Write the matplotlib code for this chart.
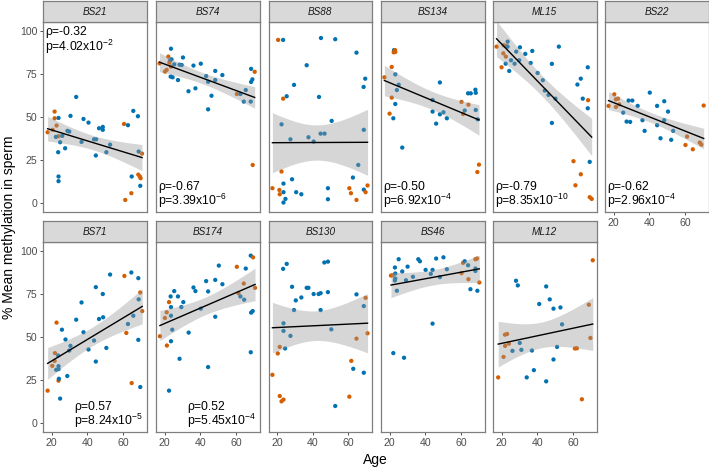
import numpy as np
import matplotlib
matplotlib.use("Agg")
import matplotlib.pyplot as plt

plt.rcParams['font.family'] = ['Liberation Sans', 'DejaVu Sans']
plt.rcParams['mathtext.fontset'] = 'custom'
plt.rcParams['mathtext.rm'] = 'Liberation Sans'
plt.rcParams['mathtext.it'] = 'Liberation Sans:italic'

# ---------------- data ----------------
panels = ['BS21', 'BS74', 'BS88', 'BS134', 'ML15', 'BS22',
          'BS71', 'BS174', 'BS130', 'BS46', 'ML12']

bs21_age = [17.8,20.6,21.7,21.7,22.8,23.9,22.4,23.9,23.7,23.9,23.9,24.8,26.0,27.6,28.9,29.9,30.6,33.8,36.8,37.9,40.7,43.8,45.0,44.8,46.6,48.7,48.7,50.7,52.8,60.6,62.8,61.3,64.7,64.9,65.8,68.4,68.8,68.6,69.5,69.9,69.7,70.7]
bs21_val = [41.2,42.6,53.2,49.3,45.1,38.9,38.5,49.5,29.6,15.5,12.8,35.4,39.1,31.9,42.0,41.6,50.7,61.7,35.6,48.9,46.8,37.1,37.1,27.7,43.5,44.3,42.6,29.6,34.0,46.0,45.3,1.9,5.8,15.5,53.6,50.5,30.0,16.6,15.5,14.5,10.1,28.8]
bs21_grp = "oooooo" + "b"*23 + "oboobbbbooobo"

bs74_age = [17.2,22.1,23.6,23.0,22.7,23.6,23.9,20.2,21.2,23.4,24.5,25.4,27.5,28.4,29.6,30.3,33.4,36.2,37.3,40.3,43.3,44.4,44.4,46.3,48.4,48.4,52.4,60.5,62.5,64.4,65.5,68.3,68.5,68.5,69.2,70.5,69.4]
bs74_val = [81.2,85.1,89.7,82.7,81.6,79.3,83.5,76.4,77.4,73.5,73.1,80.6,71.5,80.4,80.2,84.6,65.0,79.9,66.7,81.0,73.8,70.5,54.5,62.4,76.8,71.5,74.4,63.4,63.4,59.0,65.7,59.0,78.0,70.4,71.9,76.3,22.2]
bs74_grp = "oobbooboob" + "b"*17 + "o" + "b"*7 + "oo"

bs88_age = [20.6,23.4,44.6,52.6,64.5,36.6,29.5,69.4,68.5,23.4,25.4,43.5,50.6,22.5,27.5,37.6,40.5,44.4,46.6,68.6,65.5,22.5,62.5,28.4,17.4,21.3,23.6,23.6,21.5,24.7,23.6,30.7,33.6,48.5,48.5,60.5,61.4,64.5,68.6,69.6,70.7]
bs88_val = [94.8,94.8,95.9,95.2,87.4,80.1,68.7,72.3,67.5,60.7,62.1,61.7,47.8,45.8,37.1,38.3,35.8,40.4,40.4,42.6,22.2,18.4,14.9,13.9,8.7,7.7,11.4,6.4,5.2,2.5,0.4,6.4,5.2,8.7,2.3,8.7,5.8,1.9,7.9,6.4,10.3]
bs88_grp = "o" + "b"*8 + "o" + "b"*11 + "o" + "bb" + "oo" + "bb" + "o" + "b"*6 + "ooo" + "b" + "oo"

bs134_age = [17.1,22.5,23.1,22.3,23.2,21.2,23.2,25.1,24.1,21.2,23.2,20.0,22.1,27.1,48.2,44.1,44.1,46.1,48.2,50.2,52.1,60.3,61.2,62.1,64.2,64.0,65.5,68.1,68.3,68.3,69.4,70.1,69.2]
bs134_val = [73.1,88.9,88.9,87.6,87.8,79.1,74.8,68.8,65.7,61.3,57.6,52.0,49.3,32.3,70.1,59.9,53.2,46.2,51.6,52.8,49.3,58.8,51.8,53.8,57.2,63.8,63.8,65.9,64.1,54.1,48.7,22.4,18.1]
bs134_grp = "oboooo" + "bbb" + "obobb" + "b"*7 + "oobo" + "b"*6 + "oo"

ml15_age = [17.2,21.2,22.5,23.4,23.4,21.0,22.4,22.3,20.0,24.3,25.3,27.3,28.2,29.9,30.3,33.3,37.2,36.3,40.2,43.1,44.2,46.3,48.2,50.2,52.1,48.2,62.5,64.4,65.5,68.3,68.5,68.3,69.4,60.3,64.4,61.4,69.4,70.5]
ml15_val = [90.9,91.7,91.3,93.8,90.9,87.0,85.1,81.0,78.9,76.8,83.0,81.0,88.0,83.0,90.5,86.7,88.4,81.4,75.6,71.4,65.4,62.9,80.9,60.7,90.9,46.6,68.9,72.3,60.7,78.9,59.8,55.1,24.0,24.4,16.8,10.4,3.5,2.5]
ml15_grp = "ooobboobob" + "b"*20 + "obb" + "ooooo"

bs22_age = [17.2,20.4,21.3,22.5,21.3,23.2,25.4,27.3,29.3,28.4,30.5,33.5,36.2,37.4,40.3,44.4,44.4,46.3,48.4,48.4,50.5,52.3,53.4,61.2,60.3,64.4,68.3,69.2,70.5]
bs22_val = [56.5,63.2,60.3,60.7,55.9,57.4,52.6,47.4,47.2,59.6,59.6,56.5,48.2,42.0,64.2,56.5,45.3,37.7,59.2,48.2,53.2,36.8,42.0,38.7,33.8,31.3,35.2,34.0,56.7]
bs22_grp = "oooooo" + "b"*17 + "oooooo"

bs71_age = [17.8,20.4,21.9,21.7,22.8,23.9,22.6,23.7,23.9,23.9,24.1,24.8,25.8,27.8,28.8,29.9,30.6,33.8,36.8,37.9,40.7,43.8,44.8,44.8,46.6,48.7,48.9,50.7,52.8,60.8,61.9,62.8,64.7,64.9,65.8,68.6,68.8,68.6,69.7,69.7,70.8]
bs71_val = [18.9,33.3,40.7,36.2,58.4,24.7,31.0,39.3,33.1,31.4,25.8,14.3,54.3,48.6,27.4,42.2,44.9,60.1,70.1,52.8,42.8,48.0,35.8,79.0,60.5,75.0,61.5,43.7,86.3,85.5,52.4,57.6,87.5,23.3,62.4,84.2,71.9,48.4,75.9,21.0,65.1]
bs71_grp = "oooooo" + "b"*23 + "oobbobbbbobo"

bs174_age = [17.4,20.2,21.2,22.5,21.3,23.4,23.6,23.6,24.3,23.6,22.5,25.4,27.5,28.4,29.4,30.5,33.5,36.2,37.3,40.3,43.3,44.4,44.4,48.4,48.4,50.4,52.4,60.5,61.4,62.5,64.4,64.6,65.5,68.3,69.6,68.5,69.4,68.3,70.7]
bs174_val = [50.5,61.1,64.4,70.3,45.1,73.6,67.4,62.4,54.3,47.6,18.9,76.7,73.6,37.4,67.4,70.3,52.6,78.8,76.7,66.5,82.5,76.5,32.6,83.2,61.8,91.5,80.7,90.8,75.5,73.6,81.1,71.7,89.8,97.3,96.3,64.2,65.1,41.2,78.6]
bs174_grp = "ooooo" + "b"*22 + "oobobbbobbbo"

bs130_age = [17.4,20.4,21.5,21.5,22.5,23.6,23.4,25.4,23.6,23.6,24.5,27.5,28.4,29.5,30.5,33.6,36.6,37.6,40.5,43.3,44.4,44.4,46.5,48.5,48.5,50.4,52.6,60.5,61.6,62.7,64.5,64.5,68.6,68.6,69.6,70.7]
bs130_val = [28.1,40.5,44.3,15.8,12.7,13.7,89.6,92.5,58.0,53.6,43.4,50.7,79.2,65.7,71.3,73.0,78.6,78.6,75.0,75.0,75.5,65.7,93.3,93.8,76.1,54.5,10.0,15.4,36.2,31.6,74.8,49.1,68.0,29.3,72.8,52.2]
bs130_grp = "oooooo" + "b"*21 + "oobbobboo"

bs46_age = [20.8,21.7,23.2,23.2,23.0,23.0,24.1,25.1,22.1,27.1,28.1,29.2,30.1,33.1,36.1,37.0,40.2,43.1,44.1,44.1,46.1,48.2,50.2,52.1,60.3,61.2,62.1,64.2,64.0,65.3,68.1,69.0,68.1,68.1,69.2,70.3]
bs46_val = [85.7,85.9,84.0,86.9,90.4,82.9,76.9,95.2,40.7,88.1,38.0,83.0,90.9,85.0,95.2,94.0,89.0,86.7,89.0,57.8,95.6,84.8,96.3,89.4,87.1,93.1,94.0,83.6,91.7,77.8,95.2,95.6,89.8,88.4,76.9,81.7]
bs46_grp = "oo" + "b"*22 + "oobobboobbbo"

ml12_age = [18.1,21.1,22.0,21.9,23.1,24.1,26.1,28.1,29.1,30.2,31.1,34.1,37.0,38.1,41.1,45.0,45.0,47.0,49.1,49.1,51.1,53.0,53.9,61.1,62.2,65.0,68.9,69.8,71.1]
ml12_val = [26.6,38.5,44.9,51.4,51.8,46.2,42.0,82.7,80.0,46.6,42.6,26.6,42.2,30.8,69.2,79.4,24.3,71.9,66.5,37.0,44.3,67.2,57.4,43.4,43.5,13.9,68.8,49.5,94.6]
ml12_grp = "oooooo" + "b"*17 + "oooooo"

ages = [bs21_age, bs74_age, bs88_age, bs134_age, ml15_age, bs22_age,
        bs71_age, bs174_age, bs130_age, bs46_age, ml12_age]
vals = [bs21_val, bs74_val, bs88_val, bs134_val, ml15_val, bs22_val,
        bs71_val, bs174_val, bs130_val, bs46_val, ml12_val]
grps = [bs21_grp, bs74_grp, bs88_grp, bs134_grp, ml15_grp, bs22_grp,
        bs71_grp, bs174_grp, bs130_grp, bs46_grp, ml12_grp]

rho_txt = ['-0.32', '-0.67', None, '-0.50', '-0.79', '-0.62', '0.57', '0.52', None, None, None]
p_mant = ['4.02', '3.39', None, '6.92', '8.35', '2.96', '8.24', '5.45', None, None, None]
p_exp = ['-2', '-6', None, '-4', '-10', '-4', '-5', '-4', None, None, None]
label_pos = ['top', 'bottom', None, 'bottom', 'bottom', 'bottom', 'mid', 'mid', None, None, None]

x_ticks = [20, 40, 60]
y_ticks = [0, 25, 50, 75, 100]

# ---------------- styling ----------------
W, H = 709, 468
BLUE = '#0072B2'
ORANGE = '#D55E00'
BORDER = '#7f7f7f'
XLIM = (15.2, 73.2)
YLIM = (-5.1, 105.2)

fig = plt.figure(figsize=(W / 100, H / 100), dpi=100)


def rect(x0, ytop, w, h):
    return [x0 / W, 1 - (ytop + h) / H, w / W, h / H]


col_left = [43, 156, 268.5, 381, 493, 605]
pw = 103.5
row_top = [22, 242]
strip_top = [1, 221]
ph = 190


def tq(df):
    z = 1.959964
    return z + (z**3 + z) / (4 * df) + (5 * z**5 + 16 * z**3 + 3 * z) / (96 * df**2)


for i, name in enumerate(panels):
    r, c = (0, i) if i < 6 else (1, i - 6)
    ax = fig.add_axes(rect(col_left[c], row_top[r], pw, ph))
    x = np.array(ages[i]); y = np.array(vals[i])
    g = np.array(list(grps[i]))
    cols = np.where(g == 'o', ORANGE, BLUE)
    ax.scatter(x, y, s=9.5, c=cols, linewidths=0, zorder=2)

    # linear fit with 95% CI
    n = len(x)
    b, a = np.polyfit(x, y, 1)
    xs = np.linspace(x.min(), x.max(), 80)
    yhat = a + b * xs
    resid = y - (a + b * x)
    s = np.sqrt(np.sum(resid**2) / (n - 2))
    sxx = np.sum((x - x.mean())**2)
    se = s * np.sqrt(1 / n + (xs - x.mean())**2 / sxx)
    t = tq(n - 2)
    ax.fill_between(xs, yhat - t * se, yhat + t * se, color='#999999', alpha=0.4,
                    linewidth=0, zorder=3)
    ax.plot(xs, yhat, color='black', lw=1.0, zorder=4)

    ax.set_xlim(*XLIM); ax.set_ylim(*YLIM)
    ax.set_xticks(x_ticks); ax.set_yticks(y_ticks)
    for sp in ax.spines.values():
        sp.set_color(BORDER); sp.set_linewidth(0.9)
    ax.tick_params(length=2.5, width=0.6, color='#333333', labelsize=7.6,
                   labelcolor='#4d4d4d', pad=1.5)
    if c != 0:
        ax.tick_params(axis='y', left=False, labelleft=False)
    if not (r == 1 or i == 5):
        ax.tick_params(axis='x', bottom=False, labelbottom=False)

    # annotations
    if rho_txt[i] is not None:
        pos = label_pos[i]
        if pos == 'top':
            tx, y1, y2 = 16.6, 97.6, 88.6
        elif pos == 'bottom':
            tx, y1, y2 = 16.6, 7.8, -1.1
        else:
            tx, y1, y2 = 32.8, 7.8, -1.1
        ax.text(tx, y1, 'ρ=' + rho_txt[i], fontsize=8.8, va='baseline', ha='left', zorder=5)
        ax.text(tx, y2, 'p=' + p_mant[i] + 'x10$^{' + p_exp[i] + '}$', fontsize=8.8,
                va='baseline', ha='left', zorder=5)

    # strip
    sax = fig.add_axes(rect(col_left[c], strip_top[r], pw, row_top[r] - strip_top[r]))
    sax.set_facecolor('#d9d9d9')
    sax.set_xticks([]); sax.set_yticks([])
    for sp in sax.spines.values():
        sp.set_color(BORDER); sp.set_linewidth(0.9)
    sax.text(0.5, 0.48, name, transform=sax.transAxes, ha='center', va='center',
             fontsize=7.2, style='italic', color='#1a1a1a')

fig.text(375.5 / W, 1 - 460 / H, 'Age', ha='center', va='center', fontsize=10)
fig.text(9 / W, 1 - 227 / H, '% Mean methylation in sperm', ha='center', va='center',
         rotation=90, fontsize=10)

fig.savefig('out.png', dpi=100)
